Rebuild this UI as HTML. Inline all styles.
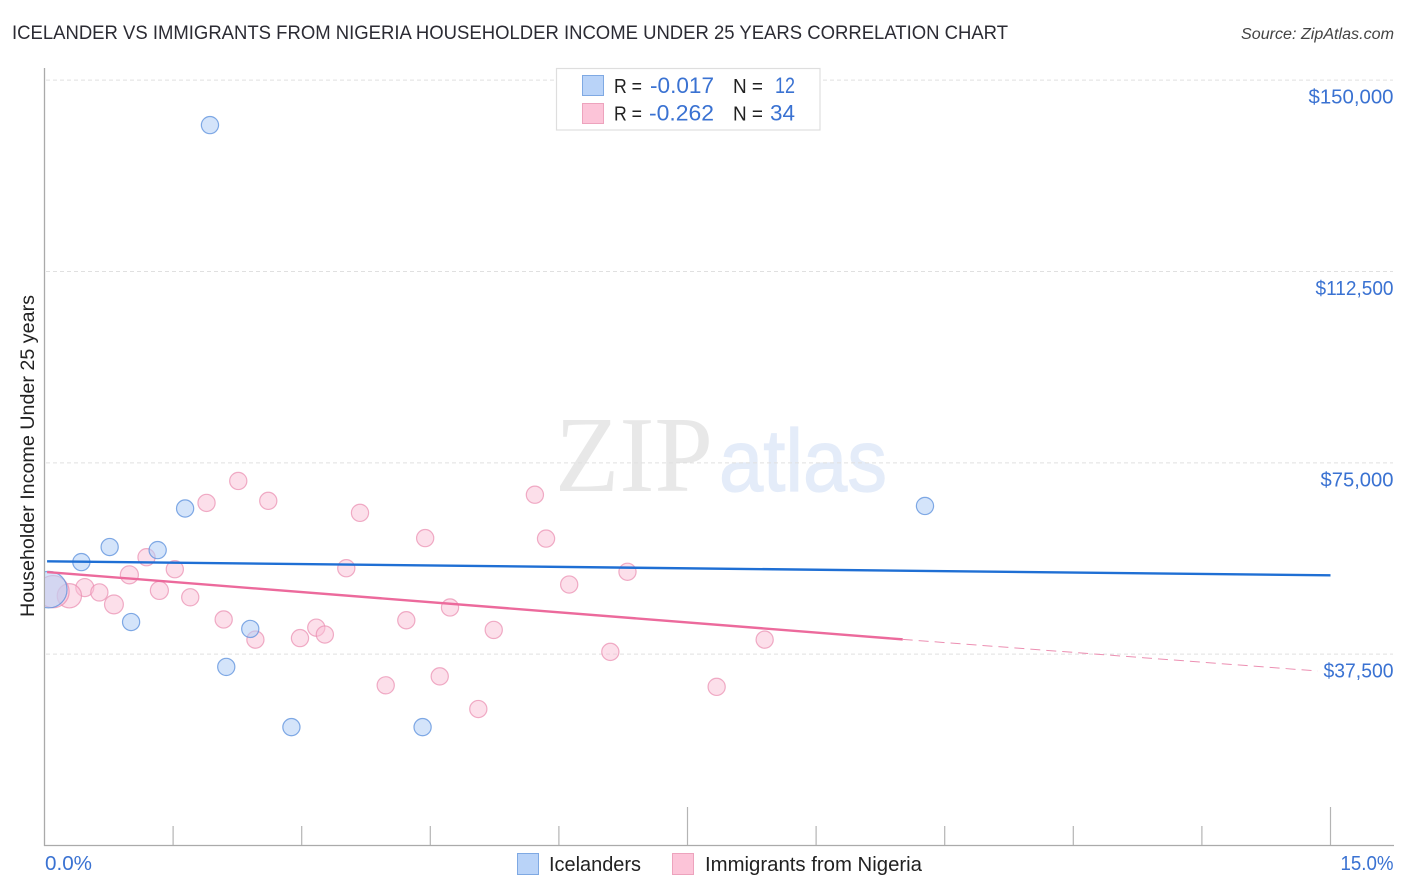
<!DOCTYPE html>
<html lang="en">
<head>
<meta charset="utf-8">
<title>Icelander vs Immigrants from Nigeria Householder Income Under 25 Years Correlation Chart</title>
<style>
html,body{margin:0;padding:0;background:#fff;}
svg{display:block;font-family:"Liberation Sans",sans-serif;}
.blue{fill:#3a72d2;}
.dark{fill:#222;}
</style>
</head>
<body>
<svg id="chart" width="1406" height="892" viewBox="0 0 1406 892" xmlns="http://www.w3.org/2000/svg">
  <defs><clipPath id="plot-clip"><rect x="45" y="60" width="1349" height="785"/></clipPath></defs>
  <text x="12" y="39" font-size="19" fill="#2b2b33" textLength="996" lengthAdjust="spacingAndGlyphs">ICELANDER VS IMMIGRANTS FROM NIGERIA HOUSEHOLDER INCOME UNDER 25 YEARS CORRELATION CHART</text>
  <text x="1241" y="39" font-size="15.5" font-style="italic" fill="#444" textLength="153" lengthAdjust="spacingAndGlyphs">Source: ZipAtlas.com</text>

  <g>
    <text x="555" y="491" font-family="'Liberation Serif',serif" font-size="108" fill="#e8e8e8" textLength="158" lengthAdjust="spacingAndGlyphs">ZIP</text>
    <text x="719" y="491" font-size="88" fill="#e4ecf9" stroke="#e4ecf9" stroke-width="1.2" textLength="168" lengthAdjust="spacingAndGlyphs">atlas</text>
  </g>

  <g id="grid"></g>
  <g id="axes"></g>
  <g id="points" clip-path="url(#plot-clip)"></g>
  <g id="trends"></g>
  <g id="labels"></g>

  <text transform="translate(34,617) rotate(-90)" font-size="19.5" fill="#222" textLength="322" lengthAdjust="spacingAndGlyphs">Householder Income Under 25 years</text>

  <g>
    <rect x="556.5" y="68.5" width="263.5" height="61.5" fill="#fff" stroke="#dedede" stroke-width="1.2"/>
    <rect x="582.5" y="75.5" width="21" height="20" fill="#b9d3f8" stroke="#7fa9e3" stroke-width="1"/>
    <rect x="582.5" y="103.5" width="21" height="20" fill="#fcc4d8" stroke="#eda3bd" stroke-width="1"/>
    <text class="dark" x="614" y="93" font-size="20" textLength="28" lengthAdjust="spacingAndGlyphs">R =</text>
    <text class="blue" x="650" y="93" font-size="22" textLength="64" lengthAdjust="spacingAndGlyphs">-0.017</text>
    <text class="dark" x="733" y="93" font-size="20" textLength="30" lengthAdjust="spacingAndGlyphs">N =</text>
    <text class="blue" x="775" y="93" font-size="22" textLength="20" lengthAdjust="spacingAndGlyphs">12</text>
    <text class="dark" x="614" y="120.5" font-size="20" textLength="28" lengthAdjust="spacingAndGlyphs">R =</text>
    <text class="blue" x="649" y="120.5" font-size="22" textLength="65" lengthAdjust="spacingAndGlyphs">-0.262</text>
    <text class="dark" x="733" y="120.5" font-size="20" textLength="30" lengthAdjust="spacingAndGlyphs">N =</text>
    <text class="blue" x="770" y="120.5" font-size="22" textLength="25" lengthAdjust="spacingAndGlyphs">34</text>
  </g>

  <g>
    <rect x="517.5" y="853.5" width="21" height="21" fill="#b9d3f8" stroke="#7fa9e3" stroke-width="1"/>
    <text class="dark" x="549" y="871" font-size="20" textLength="92" lengthAdjust="spacingAndGlyphs">Icelanders</text>
    <rect x="672.5" y="853.5" width="21" height="21" fill="#fcc4d8" stroke="#eda3bd" stroke-width="1"/>
    <text class="dark" x="705" y="871" font-size="20" textLength="217" lengthAdjust="spacingAndGlyphs">Immigrants from Nigeria</text>
  </g>
</svg>
<script>
// ---- data ----
const yTickValues = [150000, 112500, 75000, 37500];
const yTickLabels = ["$150,000", "$112,500", "$75,000", "$37,500"];
const xTickValues = [1.5, 3, 4.5, 6, 7.5, 9, 10.5, 12, 13.5, 15];
const xMajorTicks = [7.5, 15];
const xEndLabels = ["0.0%", "15.0%"];

const icelanderShare = [1.93, 1.64, 0.76, 1.32, 0.43, 1.01, 2.40, 2.12, 2.88, 4.41, 10.27, 0.05];
const icelanderIncome = [141200, 66050, 58500, 57900, 55550, 43800, 42450, 35000, 23200, 23200, 66550, 50150];
const icelanderWeight = [1, 1, 1, 1, 1, 1, 1, 1, 1, 1, 1, 4.5];

const nigeriaShare = [1.89, 2.26, 2.61, 3.68, 5.72, 4.44, 5.85, 1.19, 1.52, 0.99, 0.47, 0.64, 1.34, 0.81, 1.70, 3.52, 6.12, 6.80, 4.73, 4.22, 2.09, 2.46, 2.98, 3.17, 3.27, 5.24, 8.40, 6.60, 3.98, 4.61, 7.84, 5.06, 0.29, 0.10];
const nigeriaIncome = [67150, 71450, 67550, 65200, 68750, 60250, 60150, 56500, 54150, 53050, 50550, 49600, 50000, 47250, 48650, 54350, 51150, 53650, 46650, 44150, 44300, 40350, 40650, 42700, 41350, 42250, 40350, 37950, 31400, 33150, 31100, 26750, 48950, 49750];
const nigeriaWeight = [1, 1, 1, 1, 1, 1, 1, 1, 1, 1.1, 1.1, 1, 1.1, 1.2, 1, 1, 1, 1, 1, 1, 1, 1, 1, 1, 1, 1, 1, 1, 1, 1, 1, 1, 2, 3.5];

const trendShare = [0.03, 15];
const icelanderTrend = [55700, 52950];
const nigeriaSolidShare = [0.03, 10.01];
const nigeriaSolidTrend = [53600, 40400];
const nigeriaDashShare = [10.01, 14.85];
const nigeriaDashTrend = [40400, 34200];

// ---- scales ----
const xScale = v => 44.5 + v / 15 * 1286;
const yScale = v => 845.5 - v / 37500 * 191.33;
const rScale = w => 8.6 * Math.sqrt(w);

// Approximate advance of each label glyph in the reference typeface.
function labelWidth(s) {
  let w = 0;
  for (const ch of s) {
    if (ch === "0") w += 13;
    else if (ch === "1") w += 9;
    else if (ch === "," || ch === ".") w += 4;
    else if (ch === "%") w += 16;
    else w += 10;
  }
  return w;
}

const NS = "http://www.w3.org/2000/svg";
function make(tag, parent, attrs, text) {
  const el = document.createElementNS(NS, tag);
  for (const k in attrs) el.setAttribute(k, attrs[k]);
  if (text !== undefined) el.textContent = text;
  document.getElementById(parent).appendChild(el);
  return el;
}

// gridlines + y labels
yTickValues.forEach((v, i) => {
  const g = make("line", "grid", {x1: 46, x2: 1393, y1: yScale(v), y2: yScale(v), stroke: "#e0e0e0", "stroke-width": 1, "stroke-dasharray": "4 3"});
  
  
  const w = labelWidth(yTickLabels[i]);
  const t = make("text", "labels", {x: 1393.5 - w, y: yScale(v) + 23.5, "font-size": 20, textLength: w, lengthAdjust: "spacingAndGlyphs", class: "blue"}, yTickLabels[i]);
  
  
});

// axes
const yAxis = make("line", "axes", {x1: 44.5, x2: 44.5, y1: 68, y2: 846, stroke: "#aaa", "stroke-width": 1.3});


const xAxis = make("line", "axes", {x1: 44, x2: 1394, y1: 845.5, y2: 845.5, stroke: "#aaa", "stroke-width": 1.3});


xTickValues.forEach(v => {
  const tall = xMajorTicks.includes(v);
  const tick = make("line", "axes", {x1: xScale(v), x2: xScale(v), y1: tall ? 807 : 826, y2: 845, stroke: "#b4b4b4", "stroke-width": 1.2});
  
  
});
const xl0 = make("text", "labels", {x: 45, y: 870, "font-size": 20, textLength: labelWidth(xEndLabels[0]) + 1, lengthAdjust: "spacingAndGlyphs", class: "blue"}, xEndLabels[0]);


const xl1 = make("text", "labels", {x: 1393.5 - labelWidth(xEndLabels[1]) - 1, y: 870, "font-size": 20, textLength: labelWidth(xEndLabels[1]) + 1, lengthAdjust: "spacingAndGlyphs", class: "blue"}, xEndLabels[1]);



// points: pink first, then blue
nigeriaShare.forEach((s, i) => {
  const c = make("circle", "points", {cx: xScale(s), cy: yScale(nigeriaIncome[i]), r: rScale(nigeriaWeight[i]), fill: "rgba(249,192,213,0.5)", stroke: "rgba(233,140,175,0.7)", "stroke-width": 1.2});
  
  
});
icelanderShare.forEach((s, i) => {
  const c = make("circle", "points", {cx: xScale(s), cy: yScale(icelanderIncome[i]), r: rScale(icelanderWeight[i]), fill: "rgba(176,206,246,0.55)", stroke: "rgba(90,143,220,0.75)", "stroke-width": 1.2});
  
  
});

// trend lines
const lb = make("line", "trends", {x1: xScale(trendShare[0]), x2: xScale(trendShare[1]), y1: yScale(icelanderTrend[0]), y2: yScale(icelanderTrend[1]), stroke: "#1f6fd4", "stroke-width": 2.4});


const lp = make("line", "trends", {x1: xScale(nigeriaSolidShare[0]), x2: xScale(nigeriaSolidShare[1]), y1: yScale(nigeriaSolidTrend[0]), y2: yScale(nigeriaSolidTrend[1]), stroke: "#ec6a9c", "stroke-width": 2.4});


const ld = make("line", "trends", {x1: xScale(nigeriaDashShare[0]), x2: xScale(nigeriaDashShare[1]), y1: yScale(nigeriaDashTrend[0]), y2: yScale(nigeriaDashTrend[1]), stroke: "#ec8fb2", "stroke-width": 1, "stroke-dasharray": "10 6"});


</script>
</body>
</html>
